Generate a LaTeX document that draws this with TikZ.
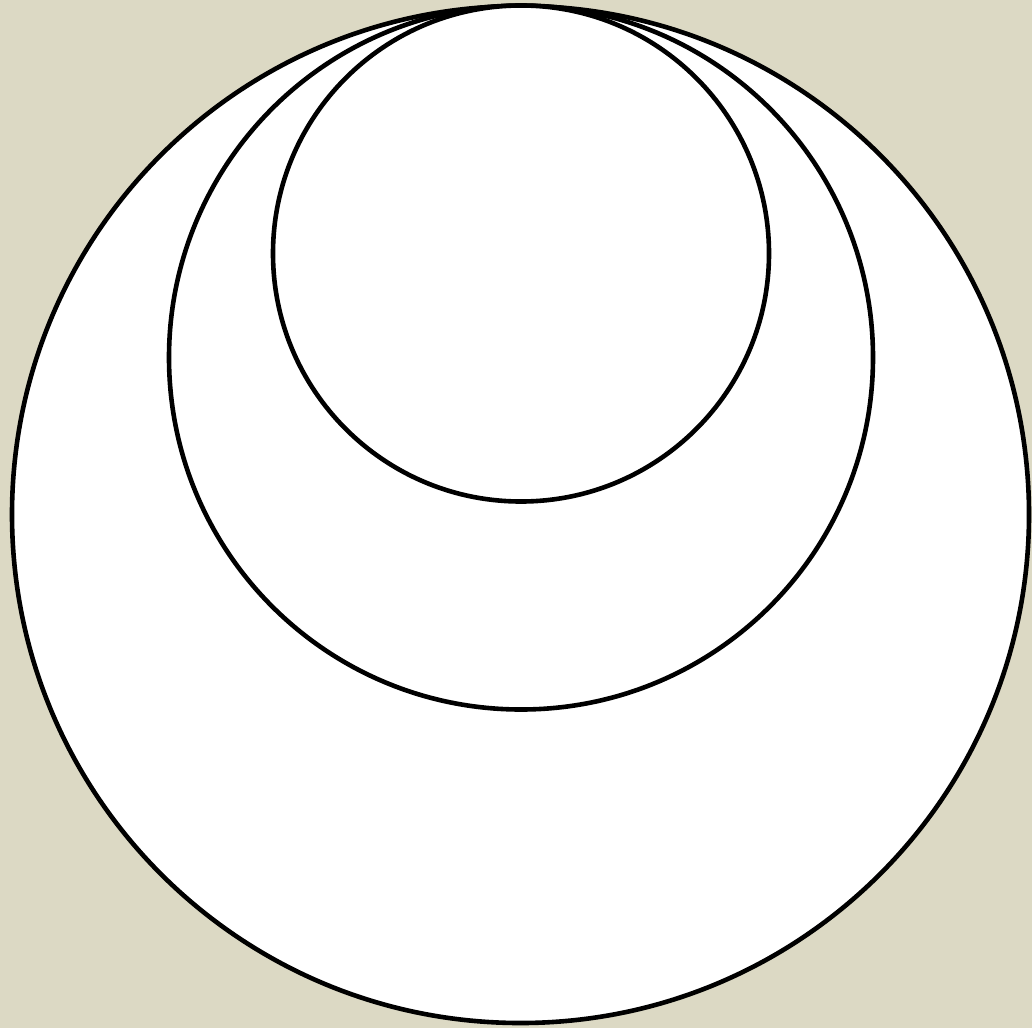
\documentclass[tikz,border=0pt]{standalone}
\definecolor{bg}{RGB}{220,217,196}
\tikzset{ring/.style={draw=black,line width=4.6pt,fill=white}}
\begin{document}
\begin{tikzpicture}[x=1pt,y=-1pt]
\fill[bg] (0,0) rectangle (1032,1028);
\useasboundingbox (0,0) rectangle (1032,1028);
\draw[ring] (520.5,514.5) circle[radius=508.5];
\draw[ring] (521,357.5) circle[radius=352];
\draw[ring] (521,253.5) circle[radius=248];
\end{tikzpicture}
\end{document}
